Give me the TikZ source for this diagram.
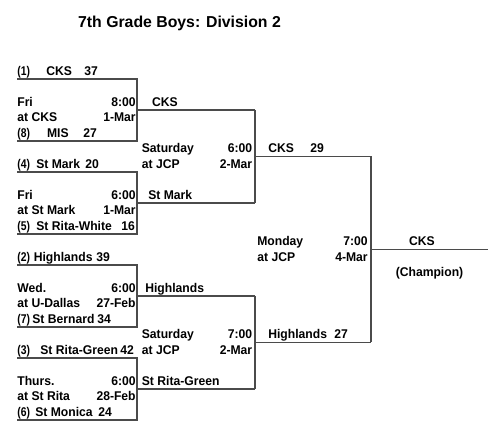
\documentclass[tikz,border=0pt]{standalone}
\usepackage{fontspec}
\setmainfont{Liberation Sans}[FakeStretch=0.96]
\newfontfamily\titlefont{Liberation Sans}
\usepackage{tikz}
\usetikzlibrary{calc}
\definecolor{lngray}{RGB}{75,75,75}
\tikzset{
  bline/.style={draw=lngray, line width=0.75pt},
  ltxt/.style={anchor=base west, inner sep=0pt, yshift=2pt,
    font=\fontsize{7.2}{8.5}\selectfont\bfseries},
  rtxt/.style={ltxt, anchor=base east},
  ctxt/.style={ltxt, anchor=base},
  ttl/.style={anchor=base, inner sep=0pt, font=\fontsize{9}{10}\titlefont\bfseries}
}
\newcommand{\seednum}[1]{\scalebox{0.85}[1]{#1}}
\begin{document}
\begin{tikzpicture}[x=0.02cm, y=-0.31cm]
  \useasboundingbox (0,-5.097) rectangle (500,23.484);
  \node[ttl] (title) at (179.5,-3.29) {7th Grade Boys: Division 2};
  % first round
  \foreach \g/\r in {1/0,2/6,3/12,4/18} {
    \coordinate (g\g t) at (17,\r);
    \coordinate (g\g b) at (17,\r+4);
    \coordinate (g\g m) at (137,\r+2);
    \coordinate (g\g o) at (255,\r+2);
    \draw[bline] (g\g t) -| (g\g m) |- (g\g b);
    \draw[bline] (g\g m) -- (g\g o);
  }
  \foreach \r/\sd/\tm/\tx/\sc/\sx in {0/(1)/CKS/46/37/84, 4/(8)/MIS/46.7/27/83,
      6/(4)/St Mark/36/20/85, 10/(5)/St Rita-White/36/16/121,
      12/(2)/Highlands/33.5/39/96, 16/(7)/St Bernard/32/34/97,
      18/(3)/St Rita-Green/40/42/120, 22/(6)/St Monica/35/24/98} {
    \node[ltxt] (seed\r) at (17,\r) {\seednum{\sd}};
    \node[ltxt] (team\r) at (\tx,\r) {\tm};
    \node[ltxt] (score\r) at (\sx,\r) {\sc};
  }
  \foreach \r/\dy/\tm/\at/\dt in {2/Fri/8:00/at CKS/1-Mar, 8/Fri/6:00/at St Mark/1-Mar,
      14/Wed./6:00/at U-Dallas/27-Feb, 20/Thurs./6:00/at St Rita/28-Feb} {
    \node[ltxt] (day\r) at (17,\r) {\dy};
    \node[rtxt] (time\r) at (136,\r) {\tm};
    \node[ltxt] (site\r) at (17,\r+1) {\at};
    \node[rtxt] (date\r) at (136,\r+1) {\dt};
  }
  % second round
  \foreach \r/\w/\wx in {2/CKS/151.7, 8/St Mark/148, 14/Highlands/145, 20/St Rita-Green/141.5}
    \node[ltxt] (win\r) at (\wx,\r) {\w};
  \coordinate (s1m) at (255,5);
  \coordinate (s1o) at (371,5);
  \coordinate (s2m) at (255,17);
  \coordinate (s2o) at (371,17);
  \draw[bline] (g1o) -| (s1m) |- (g2o);
  \draw[bline] (s1m) -- (s1o);
  \draw[bline] (g3o) -| (s2m) |- (g4o);
  \draw[bline] (s2m) -- (s2o);
  \foreach \r/\tm in {5/6:00, 17/7:00} {
    \node[ltxt] (sday\r) at (141.5,\r) {Saturday};
    \node[rtxt] (stime\r) at (252.5,\r) {\tm};
    \node[ltxt] (ssite\r) at (141.5,\r+1) {at JCP};
    \node[rtxt] (sdate\r) at (252.5,\r+1) {2-Mar};
  }
  \node[ltxt] (semi1) at (268,5) {CKS};
  \node[ltxt] (semi1s) at (310,5) {29};
  \node[ltxt] (semi2) at (268,17) {Highlands};
  \node[ltxt] (semi2s) at (334,17) {27};
  % final
  \coordinate (fm) at (371,11);
  \coordinate (champ) at (488,11);
  \draw[bline] (s1o) -| (fm) |- (s2o);
  \draw[bline] (fm) -- (champ);
  \node[ltxt] (fday) at (257,11) {Monday};
  \node[rtxt] (ftime) at (368,11) {7:00};
  \node[ltxt] (fsite) at (257,12) {at JCP};
  \node[rtxt] (fdate) at (368,12) {4-Mar};
  \node[ctxt] (winner) at (422,11) {CKS};
  \node[ctxt] (chlab) at (429.5,13) {(Champion)};
\end{tikzpicture}
\end{document}
